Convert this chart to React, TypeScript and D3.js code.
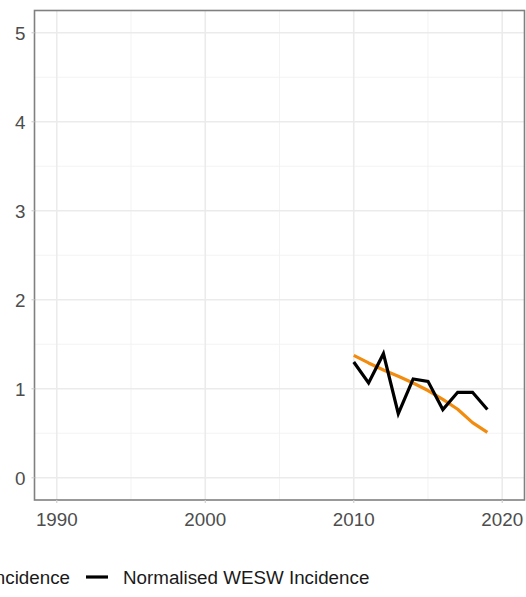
import React from "react";
import * as d3 from "d3";

const years = [2010, 2011, 2012, 2013, 2014, 2015, 2016, 2017, 2018, 2019];
const modelled = [1.375, 1.29, 1.21, 1.14, 1.065, 0.98, 0.88, 0.77, 0.62, 0.51];
const normalised = [1.3, 1.065, 1.394, 0.72, 1.11, 1.083, 0.766, 0.96, 0.96, 0.766];
const xTicks = [1990, 2000, 2010, 2020];
const xMinor = [1995, 2005, 2015];
const yTicks = [0, 1, 2, 3, 4, 5];
const yMinor = [0.5, 1.5, 2.5, 3.5, 4.5];
const legendLabels = ["Modelled Incidence", "Normalised WESW Incidence"];
const legendColors = ["#F28C0F", "#000000"];

const W = 526;
const H = 597;
const left = 34.5;
const right = 524.5;
const top = 10.5;
const bottom = 500;

export default function App() {
  const x = d3.scaleLinear().domain([1988.5, 2021.5]).range([left, right]);
  const y = d3.scaleLinear().domain([-0.25, 5.25]).range([bottom, top]);
  const line = d3
    .line<number>()
    .x((_, i) => x(years[i]))
    .y((d) => y(d));
  const font = "Liberation Sans, Arial, sans-serif";
  const fs = 18.8;

  return (
    <svg
      width={W}
      height={H}
      style={{ position: "absolute", left: 0, top: 0, background: "#fff" }}
      fontFamily={font}
    >
      <rect x={left} y={top} width={right - left} height={bottom - top} fill="#fff" />
      {yMinor.map((v) => (
        <line key={"ym" + v} x1={left} x2={right} y1={y(v)} y2={y(v)} stroke="#F2F2F2" strokeWidth={0.9} />
      ))}
      {xMinor.map((v) => (
        <line key={"xm" + v} x1={x(v)} x2={x(v)} y1={top} y2={bottom} stroke="#F2F2F2" strokeWidth={0.9} />
      ))}
      {yTicks.map((v) => (
        <line key={"yg" + v} x1={left} x2={right} y1={y(v)} y2={y(v)} stroke="#EBEBEB" strokeWidth={1.6} />
      ))}
      {xTicks.map((v) => (
        <line key={"xg" + v} x1={x(v)} x2={x(v)} y1={top} y2={bottom} stroke="#EBEBEB" strokeWidth={1.6} />
      ))}
      <path d={line(modelled) || ""} fill="none" stroke={legendColors[0]} strokeWidth={3.2} strokeLinejoin="round" />
      <path d={line(normalised) || ""} fill="none" stroke={legendColors[1]} strokeWidth={3.2} strokeLinejoin="miter" />
      <rect x={left} y={top} width={right - left} height={bottom - top} fill="none" stroke="#808080" strokeWidth={1.6} />
      {yTicks.map((v) => (
        <g key={"yt" + v}>
          <line x1={left - 3} x2={left} y1={y(v)} y2={y(v)} stroke="#D0D0D0" strokeWidth={1.2} />
          <text x={left - 9} y={y(v)} dy="0.36em" textAnchor="end" fontSize={fs} fill="#4D4D4D">
            {v}
          </text>
        </g>
      ))}
      {xTicks.map((v) => (
        <g key={"xt" + v}>
          <line x1={x(v)} x2={x(v)} y1={bottom} y2={bottom + 3} stroke="#D0D0D0" strokeWidth={1.2} />
          <text x={x(v)} y={bottom + 19} dy="0.36em" textAnchor="middle" fontSize={fs} fill="#4D4D4D">
            {v}
          </text>
        </g>
      ))}
      <g>
        <line x1={-60} x2={-38} y1={577} y2={577} stroke={legendColors[0]} strokeWidth={3.2} />
        <text x={70} y={577} dy="0.36em" textAnchor="end" fontSize={fs} fill="#1A1A1A">
          {legendLabels[0]}
        </text>
        <line x1={86} x2={108} y1={577} y2={577} stroke={legendColors[1]} strokeWidth={3.2} />
        <text x={123} y={577} dy="0.36em" fontSize={fs} fill="#1A1A1A">
          {legendLabels[1]}
        </text>
      </g>
    </svg>
  );
}
